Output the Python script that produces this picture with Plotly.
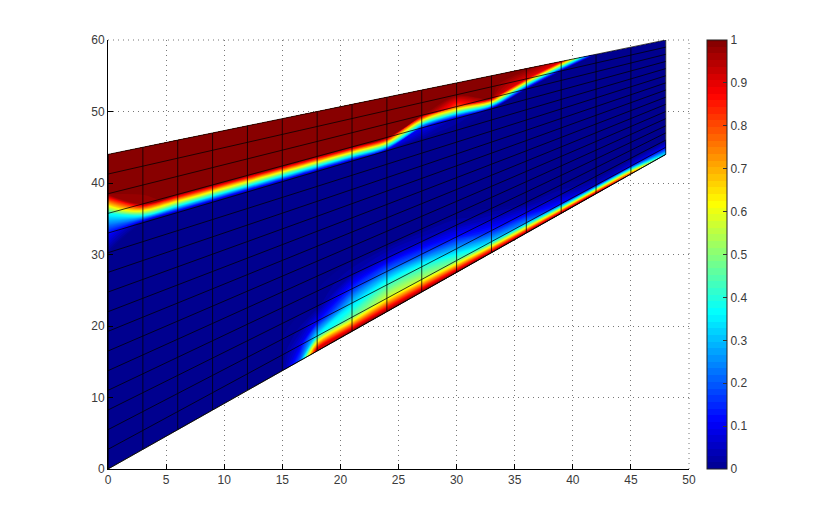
import plotly.graph_objects as go

col_x = [0, 3, 6, 9, 12, 15, 16.5, 18, 21, 24, 27, 30, 33, 36, 39, 42, 45, 48]
bottom = [0, 2.75, 5.5, 8.25, 11, 13.75, 15.125, 16.5, 19.25, 22, 24.75, 27.5, 30.25, 33, 35.75, 38.5, 41.25, 44]
top = [44, 45, 46, 47, 48, 49, 49.5, 50, 51, 52, 53, 54, 55, 56, 57, 58, 59, 60]
row_index = list(range(17))

c00 = [0, 0, 0, 0, 0, 0, 0, 0, 0, 0, 0, 0, 0.12, 0.38, 1, 1, 1]
c03 = [0, 0, 0, 0, 0, 0, 0, 0, 0, 0, 0, 0, 0, 0.97, 1, 1, 1]
c06 = [0, 0, 0, 0, 0, 0, 0, 0, 0, 0, 0, 0, 0, 1, 1, 1, 1]
c09 = [0, 0, 0, 0, 0, 0, 0, 0, 0, 0, 0, 0, 0, 1, 1, 1, 1]
c12 = [0, 0, 0, 0, 0, 0, 0, 0, 0, 0, 0, 0, 0, 1, 1, 1, 1]
c15 = [0, 0, 0, 0, 0, 0, 0, 0, 0, 0, 0, 0, 0, 1, 1, 1, 1]
c16 = [0.2, 0.08, 0.02, 0, 0, 0, 0, 0, 0, 0, 0, 0, 0, 1, 1, 1, 1]
c18 = [1, 0.35, 0.1, 0, 0, 0, 0, 0, 0, 0, 0, 0, 0, 1, 1, 1, 1]
c21 = [1, 0.47, 0.32, 0.15, 0.03, 0, 0, 0, 0, 0, 0, 0, 0, 1, 1, 1, 1]
c24 = [1, 0.58, 0.42, 0.22, 0.06, 0, 0, 0, 0, 0, 0, 0, 0, 1, 1, 1, 1]
c27 = [1, 0.55, 0.4, 0.18, 0.05, 0, 0, 0, 0, 0, 0, 0, 0, 0.1, 1, 1, 1]
c30 = [1, 0.47, 0.28, 0.12, 0.03, 0, 0, 0, 0, 0, 0, 0, 0, 0.03, 0.8, 1, 1]
c33 = [1, 0.33, 0.14, 0.05, 0, 0, 0, 0, 0, 0, 0, 0, 0, 0, 1, 1, 1]
c36 = [1, 0.25, 0.08, 0, 0, 0, 0, 0, 0, 0, 0, 0, 0, 0, 0, 0.9, 1]
c39 = [1, 0.12, 0.03, 0, 0, 0, 0, 0, 0, 0, 0, 0, 0, 0, 0, 0, 0.9]
c42 = [1, 0.05, 0, 0, 0, 0, 0, 0, 0, 0, 0, 0, 0, 0, 0, 0, 0]
c45 = [0.85, 0.08, 0, 0, 0, 0, 0, 0, 0, 0, 0, 0, 0, 0, 0, 0, 0]
c48 = [0.35, 0.1, 0, 0, 0, 0, 0, 0, 0, 0, 0, 0, 0, 0, 0, 0, 0]
columns = [c00, c03, c06, c09, c12, c15, c16, c18, c21, c24, c27, c30, c33, c36, c39, c42, c45, c48]

x_ticks = [0, 5, 10, 15, 20, 25, 30, 35, 40, 45, 50]
y_ticks = [0, 10, 20, 30, 40, 50, 60]
cbar_ticks = [0, 0.1, 0.2, 0.3, 0.4, 0.5, 0.6, 0.7, 0.8, 0.9, 1]

JET = [[0, "rgb(0,0,143)"], [0.111, "rgb(0,0,255)"], [0.365, "rgb(0,255,255)"],
       [0.619, "rgb(255,255,0)"], [0.873, "rgb(255,0,0)"], [1, "rgb(128,0,0)"]]

n = len(row_index) - 1
gx = [list(col_x) for _ in row_index]
gy = [[b + (t - b) * j / n for b, t in zip(bottom, top)] for j in row_index]
z = [[col[j] for col in columns] for j in row_index]

FONT = dict(family="Liberation Sans", size=12, color="#3a3a3a")
DOTTED = "1px,4px"


def mesh_axis(step):
    return dict(showticklabels="none", smoothing=0, gridcolor="rgba(0,0,0,0.75)", gridwidth=1,
                startlinecolor="rgba(0,0,0,0.75)", endlinecolor="rgba(0,0,0,0)",
                startlinewidth=1, endlinewidth=1, minorgridcount=0,
                tickmode="linear", dtick=step, cheatertype="value")


fig = go.Figure()
fig.add_trace(go.Carpet(a=col_x, b=row_index, x=gx, y=gy, carpet="mesh",
                        aaxis=mesh_axis(3), baxis=mesh_axis(1)))
fig.add_trace(go.Contourcarpet(
    a=col_x, b=row_index, z=z, carpet="mesh",
    autocontour=False, contours=dict(start=0, end=1, size=1 / 64, coloring="fill", showlines=False),
    line=dict(width=0), colorscale=JET, zmin=0, zmax=1,
    colorbar=dict(x=599 / 581, xanchor="left", thickness=20, thicknessmode="pixels",
                  len=1, lenmode="fraction", y=0.5, yanchor="middle", ypad=0, xpad=0,
                  tickvals=cbar_ticks, ticktext=[str(v) for v in cbar_ticks],
                  ticks="inside", ticklen=4, tickcolor="#333", outlinecolor="#222", outlinewidth=1,
                  tickfont=FONT)))

axcommon = dict(showgrid=True, gridcolor="#777", griddash=DOTTED, gridwidth=1, zeroline=False,
                showline=True, linecolor="black", linewidth=1, ticks="inside", ticklen=5,
                tickcolor="black", tickfont=FONT)
fig.update_xaxes(range=[0, 50], tickvals=x_ticks, **axcommon)
fig.update_yaxes(range=[0, 60], tickvals=y_ticks, **axcommon)

edge = dict(type="line", line=dict(color="#777", width=1, dash=DOTTED), xref="paper", yref="paper", layer="below")
shapes = [dict(x0=0, x1=1, y0=1, y1=1, **edge), dict(x0=1, x1=1, y0=0, y1=1, **edge)]
for v in cbar_ticks[1:-1]:
    shapes.append(dict(type="line", xref="paper", yref="paper", x0=599 / 581, x1=603 / 581, y0=v, y1=v,
                       line=dict(color="#333", width=1)))
fig.update_layout(width=814, height=520, autosize=False, showlegend=False, shapes=shapes,
                  margin=dict(l=100, r=133, t=32, b=59, pad=0),
                  paper_bgcolor="white", plot_bgcolor="white")
fig.write_html("out.html")
